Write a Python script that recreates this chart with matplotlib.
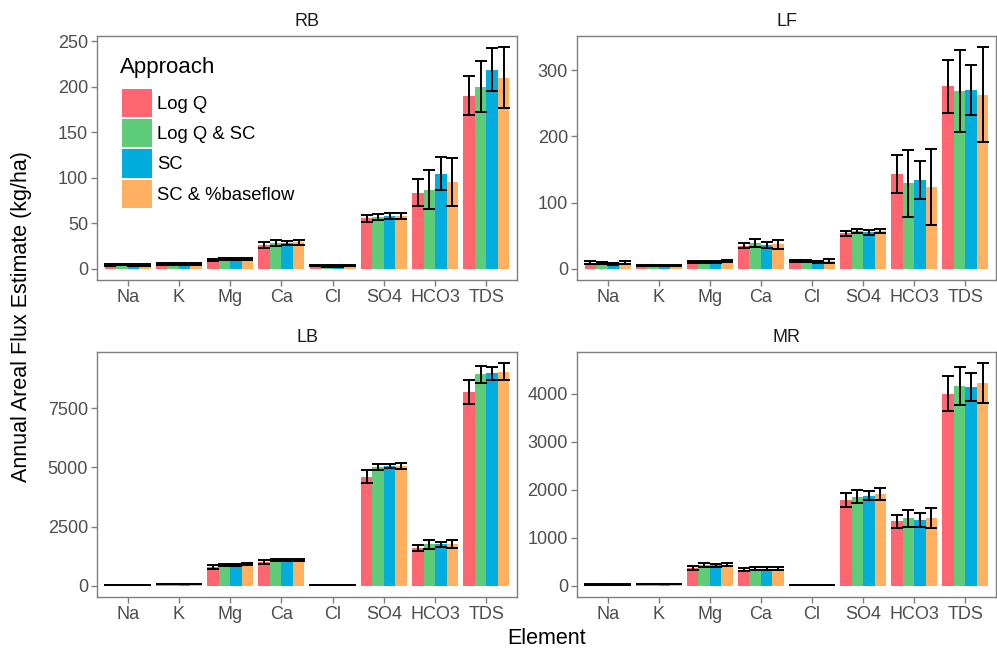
import matplotlib.pyplot as plt
from matplotlib.patches import Patch
import numpy as np

plt.rcParams['font.family'] = ['Liberation Sans', 'DejaVu Sans']

# categories and groups
elements = ['Na', 'K', 'Mg', 'Ca', 'Cl', 'SO4', 'HCO3', 'TDS']
approaches = ['Log Q', 'Log Q & SC', 'SC', 'SC & %baseflow']
colors = ['#FF6670', '#5FCC7A', '#00ADDC', '#FFB061']

# values, rows = approaches, columns = elements
rb_vals = [[4.5, 5.0, 10.0, 26.0, 3.5, 55.4, 83.7, 190.2],
           [4.8, 5.3, 11.0, 28.6, 3.3, 57.0, 87.0, 200.0],
           [4.6, 5.0, 11.0, 28.6, 3.3, 58.0, 104.3, 218.5],
           [4.7, 5.2, 11.0, 29.0, 3.5, 58.0, 95.6, 209.8]]
rb_errs = [[1.0, 1.0, 1.0, 3.0, 0.8, 3.5, 14.5, 21.7],
           [1.0, 1.0, 1.0, 3.0, 0.8, 3.5, 21.7, 28.0],
           [1.0, 1.0, 1.0, 2.5, 0.8, 3.5, 18.0, 23.5],
           [1.0, 1.0, 1.0, 3.0, 0.8, 3.5, 26.5, 33.7]]

lf_vals = [[9.5, 5.0, 10.0, 35.0, 12.0, 54.0, 143.0, 276.0],
           [9.0, 5.0, 10.0, 39.0, 12.0, 57.0, 129.0, 269.0],
           [8.0, 5.0, 11.0, 36.0, 11.0, 55.0, 134.0, 270.0],
           [9.5, 5.5, 12.0, 37.0, 12.0, 57.0, 124.0, 263.0]]
lf_errs = [[2.0, 1.0, 1.5, 4.0, 2.0, 4.0, 29.0, 40.0],
           [2.0, 1.0, 1.5, 6.0, 2.0, 3.5, 50.0, 62.0],
           [1.5, 1.0, 1.5, 4.5, 1.5, 3.5, 29.0, 38.0],
           [2.0, 1.0, 1.5, 7.0, 3.0, 3.0, 57.0, 72.0]]

lb_vals = [[40, 70, 796, 1019, 25, 4608, 1592, 8198],
           [40, 70, 893, 1103, 25, 5014, 1746, 8924],
           [40, 70, 893, 1103, 25, 5056, 1746, 8966],
           [40, 70, 935, 1103, 25, 5056, 1774, 9036]]
lb_errs = [[10, 10, 85, 80, 8, 265, 140, 503],
           [10, 10, 50, 40, 8, 145, 175, 370],
           [10, 10, 45, 40, 8, 85, 120, 280],
           [10, 10, 50, 45, 8, 125, 180, 363]]

mr_vals = [[25, 40, 380, 339, 22, 1791, 1342, 3997],
           [25, 40, 429, 360, 22, 1860, 1404, 4163],
           [25, 40, 429, 360, 22, 1880, 1376, 4142],
           [25, 40, 443, 360, 22, 1916, 1404, 4225]]
mr_errs = [[5, 6, 40, 30, 5, 152, 142, 367],
           [5, 6, 40, 35, 5, 140, 180, 401],
           [5, 6, 35, 35, 5, 90, 145, 284],
           [5, 6, 30, 40, 5, 125, 207, 411]]

rb_ticks = [0, 50, 100, 150, 200, 250]
lf_ticks = [0, 100, 200, 300]
lb_ticks = [0, 2500, 5000, 7500]
mr_ticks = [0, 1000, 2000, 3000, 4000]

W, H = 997, 652
fig = plt.figure(figsize=(W / 100, H / 100), dpi=100)

def box(l, t, r, b):
    return [l / W, 1 - b / H, (r - l) / W, (b - t) / H]

panels = [('RB', rb_vals, rb_errs, rb_ticks, box(97, 36, 517, 280)),
          ('LF', lf_vals, lf_errs, lf_ticks, box(577, 36, 996, 280)),
          ('LB', lb_vals, lb_errs, lb_ticks, box(97, 352, 517, 597)),
          ('MR', mr_vals, mr_errs, mr_ticks, box(577, 352, 996, 597))]

x = np.arange(len(elements))
bw = 0.9 / len(approaches)
border = '#7F7F7F'

axes = []
for name, vals, errs, ticks, rect in panels:
    ax = fig.add_axes(rect)
    vals = np.array(vals, dtype=float)
    errs = np.array(errs, dtype=float)
    for i in range(len(approaches)):
        xi = x + (i - 1.5) * bw
        ax.bar(xi, vals[i], width=bw, color=colors[i], linewidth=0)
        ax.errorbar(xi, vals[i], yerr=errs[i], fmt='none', ecolor='black',
                    elinewidth=1.4, capsize=4.5, capthick=1.4)
    top = (vals + errs).max()
    ax.set_ylim(-0.05 * top, 1.05 * top)
    ax.set_xlim(-0.6, len(elements) - 0.4)
    ax.set_yticks(ticks)
    ax.set_xticks(x)
    ax.set_xticklabels(elements)
    ax.set_title(name, fontsize=13, color='#1A1A1A', pad=7)
    for s in ax.spines.values():
        s.set_color(border)
        s.set_linewidth(1.0)
    ax.tick_params(axis='both', color=border, labelcolor='#4D4D4D',
                   labelsize=13, length=4, width=1.0, pad=2.5)
    axes.append(ax)

# legend inside the RB panel: title as plain text, keys as a frameless legend
axes[0].text(0.055, 0.869, 'Approach', transform=axes[0].transAxes,
             fontsize=16, ha='left', va='center')
handles = [Patch(facecolor=c, linewidth=0) for c in colors]
axes[0].legend(handles, approaches, loc='upper left',
               bbox_to_anchor=(0.059, 0.783), frameon=False, fontsize=13.3,
               handlelength=1.62, handleheight=1.97,
               handletextpad=0.28, labelspacing=0.11, borderpad=0,
               borderaxespad=0)

fig.text(0.022, 0.515, 'Annual Areal Flux Estimate (kg/ha)', rotation=90,
         ha='center', va='center', fontsize=15.5, color='black')
fig.text(0.548, 0.021, 'Element', ha='center', va='center', fontsize=15.5,
         color='black')

fig.savefig('out.png', dpi=100)
